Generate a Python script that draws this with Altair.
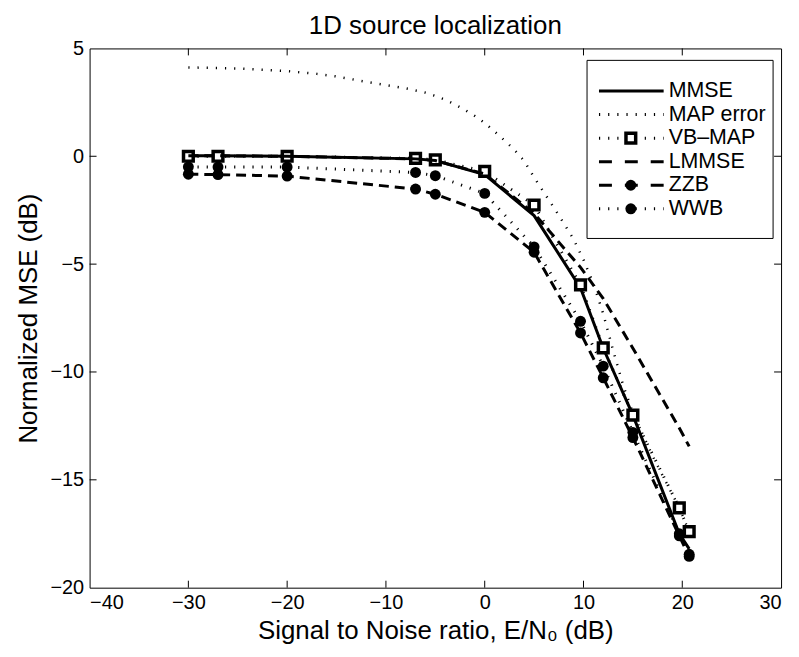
import altair as alt
import pandas as pd

# ---- data ----
snr = [-30, -27, -20, -7, -5, 0, 5, 9.7, 12, 15, 19.7, 20.7]
mmse = [0.02, 0.02, 0.0, -0.12, -0.2, -0.85, -2.75, -6.1, -8.9, -12.0, -17.5, -18.2]
vb_map = [0.0, 0.0, 0.0, -0.1, -0.17, -0.7, -2.26, -5.96, -8.88, -12.0, -16.3, -17.4]
lmmse = [0.02, 0.02, 0.0, -0.12, -0.2, -0.82, -2.65, -5.15, -6.6, -8.9, -12.6, -13.45]
zzb = [-0.83, -0.85, -0.92, -1.52, -1.76, -2.6, -4.45, -8.19, -10.27, -13.04, -17.6, -18.55]
wwb = [-0.49, -0.5, -0.5, -0.75, -0.9, -1.72, -4.2, -7.65, -9.73, -12.8, -17.5, -18.45]

map_snr = [-30, -28, -25, -22, -20, -17, -15, -12, -10, -8, -6, -5, -4, -3, -2, -1,
           0, 1, 2, 3, 4, 5, 6, 7, 8, 9, 10, 11, 12, 13, 14, 15, 17, 19.7, 20.7]
map_err = [4.12, 4.1, 4.07, 4.0, 3.95, 3.82, 3.7, 3.45, 3.3, 3.15, 2.95, 2.8, 2.62, 2.4, 2.15, 1.87,
           1.55, 1.15, 0.74, 0.3, -0.22, -0.98, -1.68, -2.38, -3.1, -3.85, -4.8, -5.9, -7.3, -9.0,
           -10.6, -11.9, -13.9, -16.3, -17.4]

x_ticks = [-40, -30, -20, -10, 0, 10, 20, 30]
y_ticks = [-20, -15, -10, -5, 0, 5]
legend_names = ["MMSE", "MAP error", "VB\u2013MAP", "LMMSE", "ZZB", "WWB"]

title_text = "1D source localization"
x_title = "Signal to Noise ratio, E/N\u2080 (dB)"
y_title = "Normalized MSE (dB)"

FONT = "Liberation Sans"
W, H = 695, 542

xs = alt.Scale(domain=[-40, 30], nice=False, zero=False)
ys = alt.Scale(domain=[-20, 5], nice=False, zero=False)
x_axis = alt.Axis(values=x_ticks, ticks=False, domain=False, grid=False, labelFont=FONT,
                  labelFontSize=20, labelColor="black", labelPadding=5, title=x_title,
                  titleFont=FONT, titleFontSize=26, titleFontWeight="normal", titleColor="black",
                  titlePadding=5, format="d")
y_axis = alt.Axis(values=y_ticks, ticks=False, domain=False, grid=False, labelFont=FONT,
                  labelFontSize=20, labelColor="black", labelPadding=6, title=y_title,
                  titleFont=FONT, titleFontSize=26, titleFontWeight="normal", titleColor="black",
                  titlePadding=8, format="d")
X = alt.X("x:Q", scale=xs, axis=x_axis)
Y = alt.Y("y:Q", scale=ys, axis=y_axis)


def frame(xv, yv):
    return pd.DataFrame({"x": xv, "y": yv, "i": list(range(len(xv)))})


def line(df, width, dash=None):
    kw = dict(color="black", strokeWidth=width, strokeCap="butt", clip=True)
    if dash:
        kw["strokeDash"] = dash
    return alt.Chart(df).mark_line(**kw).encode(x=X, y=Y, order="i:O")


d_mmse = frame(snr, mmse)
d_vb = frame(snr, vb_map)
d_lm = frame(snr, lmmse)
d_zzb = frame(snr, zzb)
d_wwb = frame(snr, wwb)
d_map = frame(map_snr, map_err)

DOT = [1.2, 8]
DASH = [10, 6]

layers = [
    line(d_mmse, 3),
    line(d_map, 2.5, DOT),
    line(d_vb, 3, DOT),
    alt.Chart(d_vb).mark_point(shape="square", filled=True, fill="white", stroke="black",
                               strokeWidth=3.5, size=95, opacity=1).encode(x=X, y=Y),
    line(d_lm, 3, DASH),
    line(d_zzb, 3, DASH),
    alt.Chart(d_zzb).mark_circle(color="black", size=120, opacity=1).encode(x=X, y=Y),
    line(d_wwb, 3, DOT),
    alt.Chart(d_wwb).mark_circle(color="black", size=120, opacity=1).encode(x=X, y=Y),
]

# inward ticks on all four sides
xt = pd.DataFrame({"x": x_ticks[1:-1]})
yt = pd.DataFrame({"y": y_ticks[1:-1]})
tick_style = dict(color="black", strokeWidth=1)
layers += [
    alt.Chart(xt).mark_rule(**tick_style).encode(x=X, y=alt.value(H), y2=alt.value(H - 7)),
    alt.Chart(xt).mark_rule(**tick_style).encode(x=X, y=alt.value(0), y2=alt.value(7)),
    alt.Chart(yt).mark_rule(**tick_style).encode(y=Y, x=alt.value(0), x2=alt.value(7)),
    alt.Chart(yt).mark_rule(**tick_style).encode(y=Y, x=alt.value(W), x2=alt.value(W - 7)),
]
data_layer = alt.layer(*layers)

# ---- legend ----
leg = pd.DataFrame({"name": legend_names})
LY = alt.Y("name:N", scale=alt.Scale(type="point", domain=legend_names, range=[31, 173]), axis=None)
LX0, LX1, LXM, LXT = 512, 577, 544, 582


def leg_rows(names):
    return leg[leg["name"].isin(names)]


leg_layers = [
    alt.Chart(pd.DataFrame({"k": [0]})).mark_rect(fill="white", stroke="black", strokeWidth=1).encode(
        x=alt.value(500), x2=alt.value(687), y=alt.value(12), y2=alt.value(191)),
    alt.Chart(leg_rows(["MMSE"])).mark_rule(color="black", strokeWidth=3).encode(
        y=LY, x=alt.value(LX0), x2=alt.value(LX1)),
    alt.Chart(leg_rows(["MAP error", "VB\u2013MAP", "WWB"])).mark_rule(
        color="black", strokeWidth=3, strokeDash=DOT, strokeCap="butt").encode(
        y=LY, x=alt.value(LX0), x2=alt.value(LX1)),
    alt.Chart(leg_rows(["LMMSE", "ZZB"])).mark_rule(
        color="black", strokeWidth=3, strokeDash=[13, 13], strokeCap="butt").encode(
        y=LY, x=alt.value(LX0), x2=alt.value(LX1)),
    alt.Chart(leg_rows(["VB\u2013MAP"])).mark_point(
        shape="square", filled=True, fill="white", stroke="black", strokeWidth=3.5, size=95,
        opacity=1).encode(y=LY, x=alt.value(LXM)),
    alt.Chart(leg_rows(["ZZB", "WWB"])).mark_circle(color="black", size=120, opacity=1).encode(
        y=LY, x=alt.value(LXM)),
    alt.Chart(leg).mark_text(align="left", baseline="middle", font=FONT, fontSize=21.5,
                             color="black").encode(y=LY, x=alt.value(LXT), text="name:N"),
]
legend_layer = alt.layer(*leg_layers)

chart = alt.layer(data_layer, legend_layer).resolve_scale(y="independent").properties(
    width=W, height=H,
    title=alt.TitleParams(title_text, font=FONT, fontSize=26, fontWeight="normal",
                          anchor="middle", color="black", offset=0),
    autosize=alt.AutoSizeParams(type="none"),
    padding={"left": 82, "top": 39, "right": 10, "bottom": 60},
).configure_view(stroke="black", strokeWidth=1)

chart.save("out.html", embed_options={"renderer": "svg", "actions": False})
